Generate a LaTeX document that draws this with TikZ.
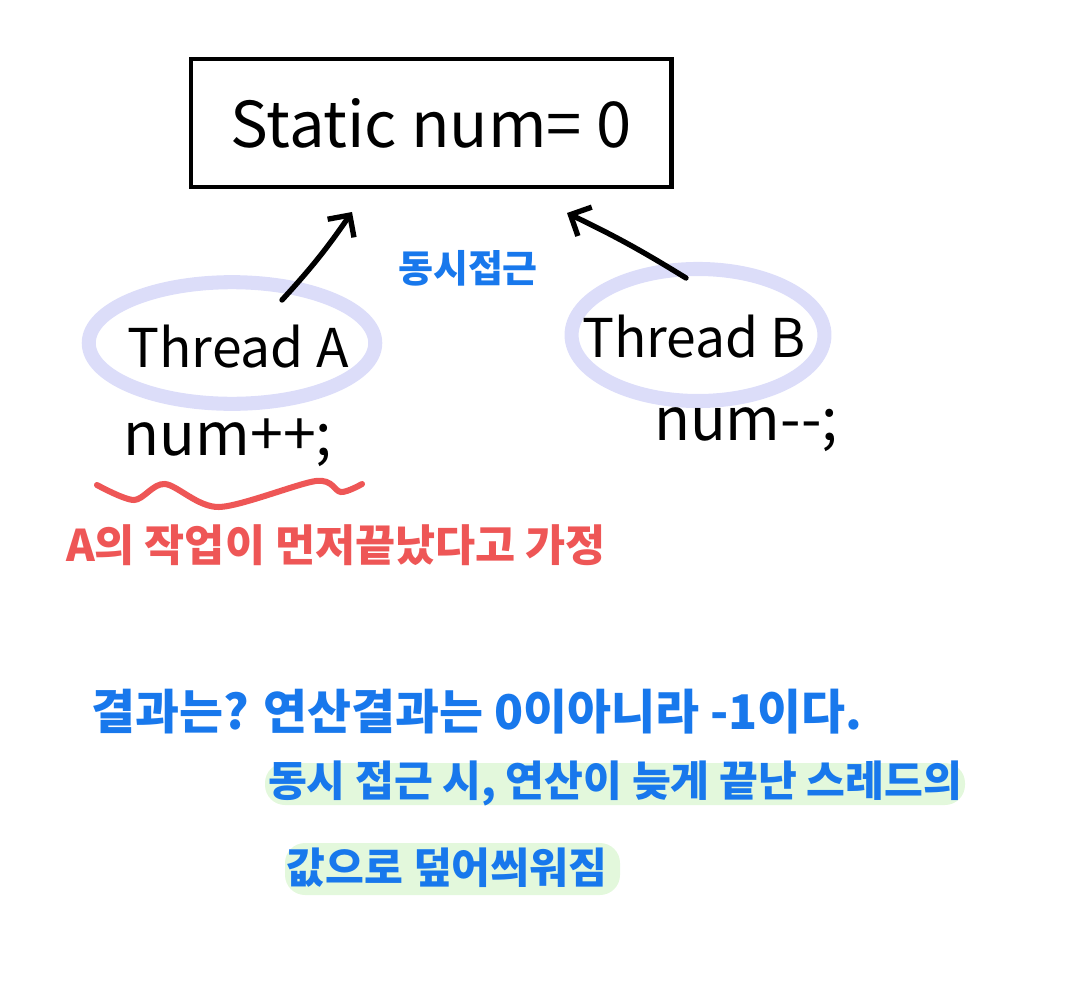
\documentclass[tikz,border=0pt]{standalone}
\usepackage{fontspec}
\setmainfont{Noto Sans CJK KR}
\usetikzlibrary{arrows.meta}
\definecolor{penblue}{HTML}{1878EC}
\definecolor{penred}{HTML}{EE5656}
\definecolor{lavender}{HTML}{DCDDF9}
\definecolor{mint}{HTML}{E3F8DC}
\tikzset{
  varbox/.style={draw=black, line width=2.9pt, minimum width=12.02cm, minimum height=3.18cm,
                 font=\fontsize{45}{50}\selectfont},
  ring/.style={draw=lavender, line width=10pt},
  thread/.style={font=\fontsize{38}{44}\selectfont},
  code/.style={font=\fontsize{42}{48}\selectfont},
  access/.style={-{Straight Barb[length=4mm,width=8mm]}, line width=3.8pt, line cap=round},
  memo/.style={text=penblue, font=\fontsize{#1}{#1}\selectfont\bfseries},
  marker/.style={fill=mint, rounded corners=0.5cm}
}
\begin{document}
\begin{tikzpicture}[x=0.025cm, y=-0.025cm]
  \useasboundingbox (0,0) rectangle (1091,999);

  \node[varbox] (num) at (431,123) {Static num= 0};

  \draw[ring] (232,343) ellipse [x radius=3.58cm, y radius=1.52cm];
  \draw[ring] (698,335) ellipse [x radius=3.16cm, y radius=1.65cm];
  \node[thread] (tA) at (238,347) {Thread A};
  \node[thread] (tB) at (694,337) {Thread B};

  \coordinate (tailA) at (282,300);
  \coordinate (tipA)  at (352,212);
  \coordinate (tailB) at (686,278);
  \coordinate (tipB)  at (567,213);
  \draw[access] (tailA) to[bend right=4] (tipA);
  \draw[access] (tailB) to[bend right=3] (tipB);

  \node[memo=27] (both) at (468,268) {동시접근};

  \node[code] (incA) at (228,443) {num++;};
  \node[code] (decB) at (746,430) {num{-}{-};};

  % wavy underline
  \draw[penred, line width=4.3pt, line cap=round] plot[smooth] coordinates
    {(97,485) (134,500) (165,484) (219,507) (316,481) (341,492) (362,484)};

  \node[text=penred, font=\fontsize{31}{31}\selectfont\bfseries] (first) at (336,545) {A의 작업이 먼저끝났다고 가정};

  \node[memo=34] (res) at (477,712) {결과는? 연산결과는 0이아니라 -1이다.};

  \fill[marker] (265,763) rectangle (965,805);
  \fill[marker] (285,843) rectangle (620,895);
  \node[memo=30] (why1) at (615,783) {동시 접근 시, 연산이 늦게 끝난 스레드의};
  \node[memo=30] (why2) at (447,868) {값으로 덮어씌워짐};
\end{tikzpicture}
\end{document}
